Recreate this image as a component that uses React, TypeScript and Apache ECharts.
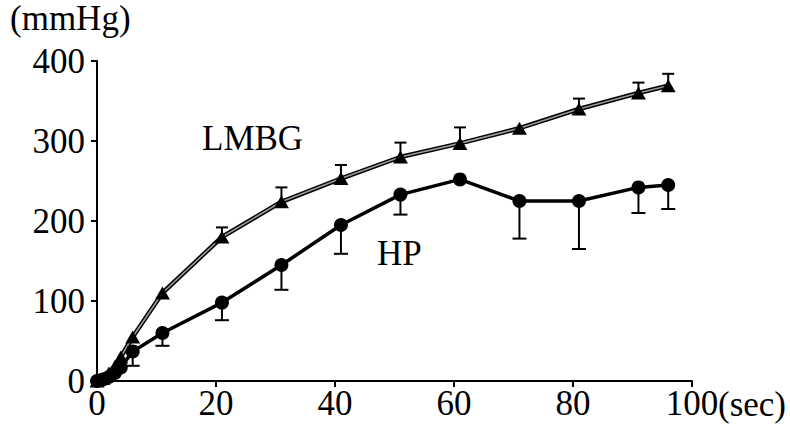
import React, { useEffect, useRef } from "react";
import * as echarts from "echarts";

const times = [0, 1, 2, 3, 4, 6, 11, 21, 31, 41, 51, 61, 71, 81, 91, 96];
const lmbgValues = [0, 3, 10, 18, 30, 55, 110, 180, 224, 253, 280, 297, 316, 340, 360, 369];
const lmbgUpperSD = [0, 0, 0, 0, 0, 0, 0, 12, 18, 17, 18, 20, 0, 13, 13, 15];
const hpValues = [0, 2, 5, 10, 17, 37, 60, 98, 145, 195, 233, 252, 225, 225, 242, 245];
const hpLowerSD = [0, 0, 0, 0, 0, 18, 16, 22, 31, 36, 25, 0, 47, 60, 32, 30];
const xTicks = [0, 20, 40, 60, 80, 100];
const yTicks = [0, 100, 200, 300, 400];

export default function App() {
  const ref = useRef<HTMLDivElement>(null);
  useEffect(() => {
    const chart = echarts.init(ref.current!, null, { renderer: "svg" });
    const font = "Liberation Serif";
    const lmbgData = times.map((t, i) => [t, lmbgValues[i]]);
    const hpData = times.map((t, i) => [t, hpValues[i]]);
    const lmbgErr = times.map((t, i) => [t, lmbgValues[i], lmbgUpperSD[i]]);
    const hpErr = times.map((t, i) => [t, hpValues[i], hpLowerSD[i]]);
    const errRender = (dir: number, half: number) => (params: any, api: any) => {
      const x = api.value(0);
      const y = api.value(1);
      const e = api.value(2);
      if (!e) return null;
      const p0 = api.coord([x, y]);
      const p1 = api.coord([x, y + dir * e]);
      return {
        type: "group",
        children: [
          { type: "line", shape: { x1: p0[0], y1: p0[1], x2: p1[0], y2: p1[1] }, style: { stroke: "#000", lineWidth: 2 } },
          { type: "line", shape: { x1: p1[0] - half, y1: p1[1], x2: p1[0] + half, y2: p1[1] }, style: { stroke: "#000", lineWidth: 2 } },
        ],
      };
    };
    const textStyle = (size: number) => ({ fontFamily: font, fontSize: size, fill: "#000" });
    chart.setOption({
      animation: false,
      backgroundColor: "#fff",
      grid: { left: 97, right: 98, top: 61, bottom: 44, containLabel: false },
      xAxis: {
        type: "value",
        min: xTicks[0],
        max: xTicks[xTicks.length - 1],
        interval: 20,
        splitLine: { show: false },
        axisLine: { lineStyle: { color: "#000", width: 2 } },
        axisTick: { show: true, length: 6, lineStyle: { color: "#000", width: 2 } },
        axisLabel: { color: "#000", fontFamily: font, fontSize: 35, margin: 5 },
      },
      yAxis: {
        type: "value",
        min: yTicks[0],
        max: yTicks[yTicks.length - 1],
        interval: 100,
        splitLine: { show: false },
        axisLine: { show: true, lineStyle: { color: "#000", width: 2 } },
        axisTick: { show: true, length: 6, lineStyle: { color: "#000", width: 2 } },
        axisLabel: { color: "#000", fontFamily: font, fontSize: 35, margin: 12 },
      },
      graphic: [
        { type: "text", left: 10, top: 1, style: { text: "(mmHg)", ...textStyle(35) } },
        { type: "text", left: 718, top: 387, style: { text: "(sec)", ...textStyle(35) } },
        { type: "text", left: 202, top: 121, style: { text: "LMBG", ...textStyle(35) } },
        { type: "text", left: 377, top: 236, style: { text: "HP", ...textStyle(35) } },
      ],
      series: [
        { type: "custom", renderItem: errRender(1, 6), data: lmbgErr, z: 1, encode: { x: 0, y: 1 } },
        { type: "custom", renderItem: errRender(-1, 7), data: hpErr, z: 1, encode: { x: 0, y: 1 } },
        { type: "line", data: lmbgData, showSymbol: false, symbol: "none", lineStyle: { color: "#000", width: 4.5 }, z: 2 },
        { type: "line", data: lmbgData, showSymbol: false, symbol: "none", lineStyle: { color: "#9a9a9a", width: 1.6 }, z: 3 },
        { type: "scatter", data: lmbgData, symbol: "triangle", symbolSize: [15, 13], itemStyle: { color: "#000", opacity: 1 }, z: 4 },
        { type: "line", data: hpData, symbol: "circle", symbolSize: 14, showSymbol: true, lineStyle: { color: "#000", width: 3.5 }, itemStyle: { color: "#000", opacity: 1 }, z: 5 },
      ],
    });
    return () => chart.dispose();
  }, []);
  return <div ref={ref} style={{ position: "absolute", left: 0, top: 0, width: 790, height: 425 }} />;
}
